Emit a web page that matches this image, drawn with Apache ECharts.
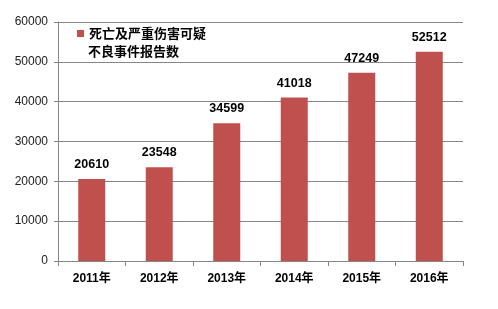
<!DOCTYPE html>
<html><head><meta charset="utf-8">
<script src="https://cdn.jsdelivr.net/npm/echarts@6/dist/echarts.min.js"></script>
<style>html,body{margin:0;padding:0;background:#fff}#c{width:498px;height:309px}</style>
</head><body><div id="c"></div>
<script>
const categories = ['2011年','2012年','2013年','2014年','2015年','2016年'];
const values = [20610, 23548, 34599, 41018, 47249, 52512];
const seriesNameLines = ['死亡及严重伤害可疑', '不良事件报告数'];
const seriesName = seriesNameLines.join('');
const chart = echarts.init(document.getElementById('c'));
const legendFont = {fontSize: 13, fontWeight: 'bold', fill: '#000', fontFamily: '"Noto Sans CJK SC", sans-serif'};
chart.setOption({
  animation: false,
  textStyle: {fontFamily: '"Liberation Sans", "Noto Sans CJK SC", sans-serif'},
  legend: {
    left: 77, top: 27, padding: 0, itemWidth: 7, itemHeight: 7, itemGap: 4,
    icon: 'rect',
    formatter: () => seriesNameLines[0],
    textStyle: {fontSize: 13, fontWeight: 'bold', color: '#000', padding: [0,0,0,0], fontFamily: '"Noto Sans CJK SC", sans-serif'},
    data: [seriesName]
  },
  graphic: [{
    type: 'text', left: 88, top: 45,
    style: Object.assign({text: seriesNameLines[1]}, legendFont)
  }],
  grid: {left: 58, right: 35, top: 22, bottom: 48},
  xAxis: {
    type: 'category', data: categories,
    axisLine: {lineStyle: {color: '#868686'}},
    axisTick: {show: true, length: 5, lineStyle: {color: '#868686'}},
    axisLabel: {color: '#000', fontWeight: 'bold', fontSize: 12, margin: 12}
  },
  yAxis: {
    type: 'value', min: 0, max: 60000, interval: 10000,
    axisLine: {show: true, lineStyle: {color: '#868686'}},
    axisTick: {show: true, length: 4, lineStyle: {color: '#868686'}},
    splitLine: {lineStyle: {color: '#868686'}},
    axisLabel: {color: '#222', fontSize: 12, margin: 10, formatter: v => String(v)}
  },
  series: [{
    name: seriesName, type: 'bar', data: values, barWidth: 27,
    itemStyle: {color: '#C0504D'},
    label: {show: true, position: 'top', color: '#000', fontWeight: 'bold', fontSize: 12.5, distance: 8}
  }]
});
</script></body></html>
